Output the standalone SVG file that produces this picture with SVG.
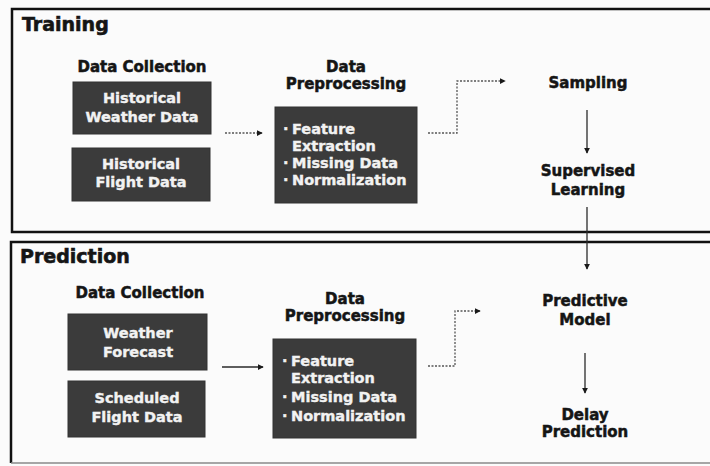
<svg xmlns="http://www.w3.org/2000/svg" width="710" height="466" viewBox="0 0 710 466">
  <style>
    .frame { fill: none; stroke: #111; stroke-width: 2.5; }
    .title { font-family: "DejaVu Sans", "Liberation Sans", sans-serif; font-weight: bold; font-size: 19px; fill: #151515; stroke: #151515; stroke-width: 0.6; }
    .head { font-family: "DejaVu Sans", "Liberation Sans", sans-serif; font-weight: bold; font-size: 15px; fill: #151515; stroke: #151515; stroke-width: 0.5; text-anchor: middle; }
    .box { fill: #3b3b3b; stroke: #333; stroke-width: 1; }
    .btxt { font-family: "DejaVu Sans", "Liberation Sans", sans-serif; font-weight: bold; font-size: 14.5px; fill: #f2f2f2; stroke: #f2f2f2; stroke-width: 0.4; text-anchor: middle; }
    .blist { font-family: "DejaVu Sans", "Liberation Sans", sans-serif; font-weight: bold; font-size: 14.5px; fill: #f2f2f2; stroke: #f2f2f2; stroke-width: 0.4; }
    .link { fill: none; stroke: #2a2a2a; stroke-width: 1.3; marker-end: url(#head); }
    .dot { stroke-dasharray: 2 1.5; stroke: #555; }
  </style>
  <defs>
    <marker id="head" viewBox="0 0 8 8" refX="7" refY="4" markerWidth="6" markerHeight="6" orient="auto" markerUnits="userSpaceOnUse">
      <path d="M0,0 L8,4 L0,8 Z" fill="#1a1a1a"/>
    </marker>
  </defs>

  <rect x="0" y="0" width="710" height="466" fill="#fbfbfb"/>

  <!-- section frames -->
  <g id="training-frame">
    <path class="frame" d="M716 9 H12 V232 H716"/>
    <text class="title" x="22" y="31">Training</text>
  </g>
  <g id="prediction-frame">
    <path class="frame" d="M716 242 H11 V463"/>
    <path d="M11 463 H716" stroke="#8a8a8a" stroke-width="1.5" fill="none"/>
    <text class="title" x="20" y="263">Prediction</text>
  </g>

  <!-- training nodes -->
  <g id="t-collection">
    <text class="head" x="142" y="72">Data Collection</text>
  </g>
  <g id="t-weather">
    <rect class="box" x="73" y="82" width="138" height="52"/>
    <text class="btxt" x="142" y="103">Historical</text>
    <text class="btxt" x="142" y="122">Weather Data</text>
  </g>
  <g id="t-flight">
    <rect class="box" x="72" y="148" width="138" height="53"/>
    <text class="btxt" x="141" y="169">Historical</text>
    <text class="btxt" x="141" y="187">Flight Data</text>
  </g>
  <g id="t-preprocessing">
    <text class="head" x="346" y="72">Data</text>
    <text class="head" x="346" y="89">Preprocessing</text>
    <rect class="box" x="275" y="107" width="142" height="96"/>
    <text class="blist" x="283" y="134">·</text>
    <text class="blist" x="292" y="134">Feature</text>
    <text class="blist" x="292" y="151">Extraction</text>
    <text class="blist" x="283" y="168">·</text>
    <text class="blist" x="292" y="168">Missing Data</text>
    <text class="blist" x="283" y="185">·</text>
    <text class="blist" x="292" y="185">Normalization</text>
  </g>
  <g id="t-sampling">
    <text class="head" x="588" y="88">Sampling</text>
  </g>
  <g id="t-supervised">
    <text class="head" x="588" y="176">Supervised</text>
    <text class="head" x="588" y="195">Learning</text>
  </g>

  <!-- prediction nodes -->
  <g id="p-collection">
    <text class="head" x="140" y="298">Data Collection</text>
  </g>
  <g id="p-forecast">
    <rect class="box" x="68" y="314" width="139" height="56"/>
    <text class="btxt" x="138" y="338">Weather</text>
    <text class="btxt" x="138" y="357">Forecast</text>
  </g>
  <g id="p-flight">
    <rect class="box" x="68" y="381" width="137" height="56"/>
    <text class="btxt" x="137" y="403">Scheduled</text>
    <text class="btxt" x="137" y="422">Flight Data</text>
  </g>
  <g id="p-preprocessing">
    <text class="head" x="345" y="304">Data</text>
    <text class="head" x="345" y="321">Preprocessing</text>
    <rect class="box" x="273" y="339" width="143" height="99"/>
    <text class="blist" x="282" y="366">·</text>
    <text class="blist" x="291" y="366">Feature</text>
    <text class="blist" x="291" y="383">Extraction</text>
    <text class="blist" x="282" y="402">·</text>
    <text class="blist" x="291" y="402">Missing Data</text>
    <text class="blist" x="282" y="421">·</text>
    <text class="blist" x="291" y="421">Normalization</text>
  </g>
  <g id="p-model">
    <text class="head" x="585" y="306">Predictive</text>
    <text class="head" x="585" y="325">Model</text>
  </g>
  <g id="p-delay">
    <text class="head" x="585" y="420">Delay</text>
    <text class="head" x="585" y="437">Prediction</text>
  </g>

  <!-- connectors -->
  <g id="connectors">
    <path class="link dot" d="M225 133 H262"/>
    <path class="link dot" d="M428 133 H457 V81 H505"/>
    <path class="link" d="M587 110 V153"/>
    <path class="link" d="M587 207 V269"/>
    <path class="link" d="M222 367 H263"/>
    <path class="link dot" d="M428 366 H455 V311 H480"/>
    <path class="link" d="M585 353 V393"/>
  </g>
</svg>
